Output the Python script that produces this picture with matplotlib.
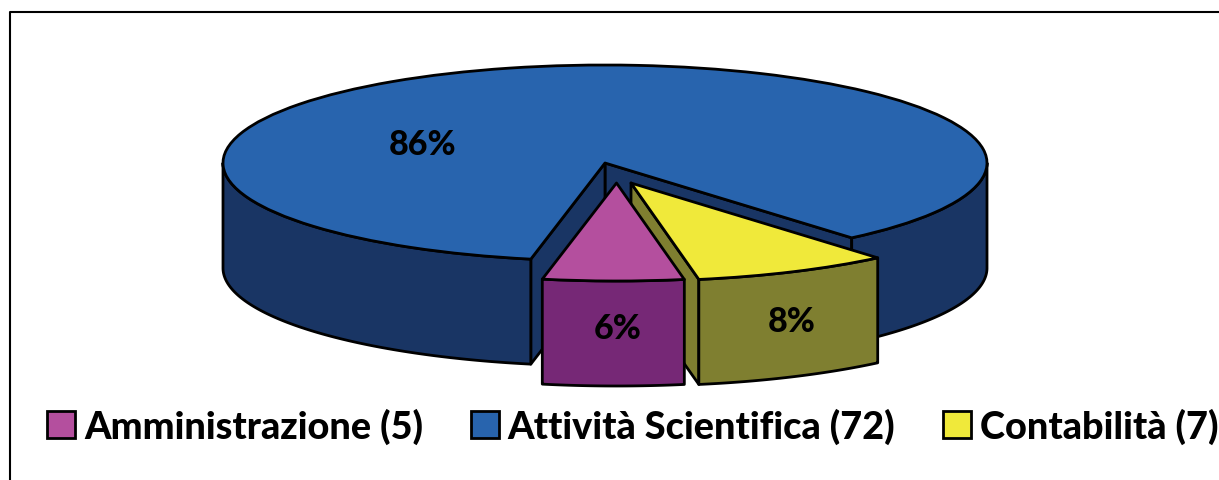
import numpy as np
import matplotlib
matplotlib.use("Agg")
import matplotlib.pyplot as plt
from matplotlib.patches import Polygon, Wedge, Patch

categories = ["Amministrazione (5)", "Attività Scientifica (72)", "Contabilità (7)"]
values = [5, 72, 7]
percent_labels = ["6%", "86%", "8%"]

top_colors = ["#B44F9E", "#2864AE", "#F0E93A"]
side_colors = ["#762876", "#193564", "#7F7F30"]

W, H = 1219, 481
fig = plt.figure(figsize=(W / 100, H / 100), dpi=100, facecolor="white")
ax = fig.add_axes([0, 0, 1, 1])
# pie unit circle: 382 px wide radius, 98 px tall radius, centre at pixel (605, 164)
RX, RY = 382, 98
CX, CY = 605, 164
ax.set_xlim(-CX / RX, (W - CX) / RX)
ax.set_ylim(-(H - CY) / RY, CY / RY)
ax.axis("off")

DEPTH = 105 / RY
offsets = [(11.5 / RX, -20 / RY), (0, 0), (26 / RX, -20 / RY)]
START = -101.2  # angle of the first slice's leading edge; slices run counter-clockwise here
LW = 2.0
EC = "black"

fractions = np.array(values) / sum(values) * 360
a_amm = (START, START + fractions[0])
a_con = (a_amm[1], a_amm[1] + fractions[2])
a_att = (a_con[1], a_con[1] + fractions[1])


def arc(a0, a1, n=200):
    t = np.radians(np.linspace(a0, a1, n))
    return np.cos(t), np.sin(t)


def outer_wall(a0, a1, off, color, z):
    x, y = arc(a0, a1)
    x, y = x + off[0], y + off[1]
    pts = np.vstack([np.c_[x, y], np.c_[x[::-1], y[::-1] - DEPTH]])
    ax.add_patch(Polygon(pts, closed=True, fc=color, ec=EC, lw=LW, zorder=z, joinstyle="round"))


def cut_face(angle, off, color, z):
    t = np.radians(angle)
    ox, oy = off
    ex, ey = np.cos(t) + ox, np.sin(t) + oy
    pts = [(ox, oy), (ex, ey), (ex, ey - DEPTH), (ox, oy - DEPTH)]
    ax.add_patch(Polygon(pts, closed=True, fc=color, ec=EC, lw=LW, zorder=z, joinstyle="round"))


def top(a0, a1, off, color, z):
    ax.add_patch(Wedge(off, 1, a0, a1, fc=color, ec=EC, lw=LW, zorder=z, joinstyle="round"))


# Attività Scientifica: wraps round the back, so its wall shows on both sides
i = 1
cut_face(a_att[0], offsets[i], side_colors[i], 1)
cut_face(a_att[1], offsets[i], side_colors[i], 1)
outer_wall(a_att[0], 0, offsets[i], side_colors[i], 2)
outer_wall(180, a_att[1], offsets[i], side_colors[i], 2)
top(a_att[0], a_att[1], offsets[i], top_colors[i], 3)

# Contabilità
i = 2
cut_face(a_con[0], offsets[i], side_colors[i], 4)
outer_wall(a_con[0], a_con[1], offsets[i], side_colors[i], 5)
top(a_con[0], a_con[1], offsets[i], top_colors[i], 6)

# Amministrazione
i = 0
outer_wall(a_amm[0], a_amm[1], offsets[i], side_colors[i], 7)
top(a_amm[0], a_amm[1], offsets[i], top_colors[i], 8)

FONT = "Lato"
WEIGHT = 900
label_pos = [(618, 329), (423, 145), (792, 322)]
for (px, py), s in zip(label_pos, percent_labels):
    ax.text((px - CX) / RX, (CY - py) / RY, s, ha="center", va="center",
            fontsize=24.5, fontweight=WEIGHT, family=FONT, color="black", zorder=10)

handles = [Patch(fc=c, ec="black", lw=LW) for c in top_colors]
ax.legend(handles, categories, loc="lower left", bbox_to_anchor=(47 / W, 1 - 445 / H), ncol=3,
          frameon=False, borderpad=0, borderaxespad=0, handlelength=0.74, handleheight=0.7,
          handletextpad=0.24, columnspacing=1.25,
          prop={"family": FONT, "weight": WEIGHT, "size": 27.3})

# outer chart frame, clipped on the right and bottom by the image edge
ax.plot([10 / W, 10 / W, 1], [0, 1 - 13 / H, 1 - 13 / H], transform=ax.transAxes,
        color="black", lw=1.5, clip_on=False, zorder=0)

fig.savefig("out.png", dpi=100, facecolor="white")
